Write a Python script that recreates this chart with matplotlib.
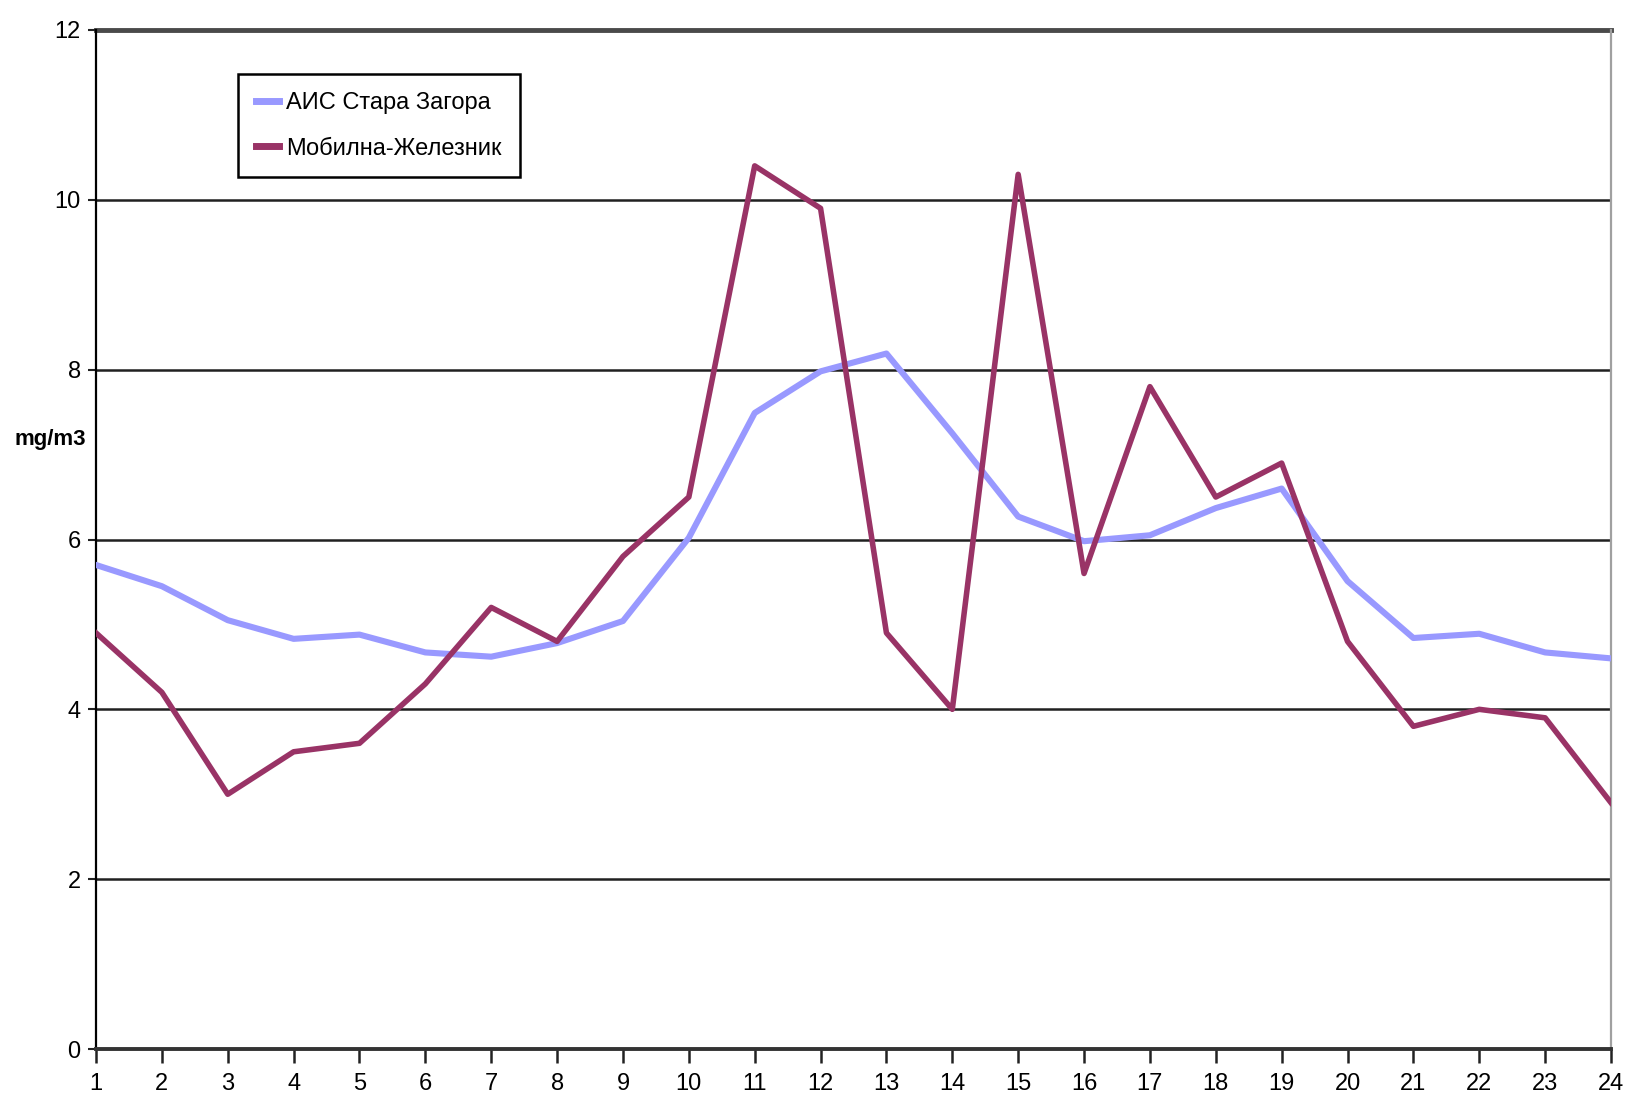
import matplotlib
matplotlib.use('Agg')
import matplotlib.pyplot as plt

plt.rcParams['font.family'] = ['Liberation Sans', 'DejaVu Sans']

hours = list(range(1, 25))
ais_stara_zagora = [5.7, 5.45, 5.05, 4.83, 4.88, 4.67, 4.62, 4.78, 5.04, 6.02,
                    7.49, 7.98, 8.19, 7.25, 6.27, 5.98, 6.05, 6.37, 6.6, 5.51,
                    4.84, 4.89, 4.67, 4.6]
mobile_zheleznik = [4.9, 4.2, 3.0, 3.5, 3.6, 4.3, 5.2, 4.8, 5.8, 6.5,
                    10.4, 9.9, 4.9, 4.0, 10.3, 5.6, 7.8, 6.5, 6.9, 4.8,
                    3.8, 4.0, 3.9, 2.9]
y_ticks = [0, 2, 4, 6, 8, 10, 12]

fig = plt.figure(figsize=(16.32, 11.03), dpi=100)
ax = fig.add_axes([96 / 1632, 1 - 1049 / 1103, 1515 / 1632, 1019 / 1103])

# horizontal grid lines
for v in y_ticks[1:-1]:
    ax.axhline(v, color='#202020', lw=1.8, zorder=1)
ax.axhline(12, color='#4a4a4a', lw=3.5, zorder=1, clip_on=False)

ax.plot(hours, ais_stara_zagora, color='#9999FF', lw=4.4, label='АИС Стара Загора',
        zorder=3)
ax.plot(hours, mobile_zheleznik, color='#993366', lw=4.0, label='Мобилна-Железник',
        zorder=4)

ax.set_xlim(1, 24)
ax.set_ylim(0, 12)
ax.set_xticks(hours)
ax.set_yticks(y_ticks)
ax.tick_params(axis='x', direction='out', length=10, width=1.8, color='#222222',
               labelsize=17, pad=7)
ax.tick_params(axis='y', direction='out', length=6, width=1.5, color='#222222',
               labelsize=17, pad=5)

ax.spines['left'].set_color('black')
ax.spines['left'].set_linewidth(1.6)
ax.spines['bottom'].set_color('#333333')
ax.spines['bottom'].set_linewidth(2.8)
ax.spines['right'].set_color('#a0a0a0')
ax.spines['right'].set_linewidth(1.6)
ax.spines['top'].set_visible(False)

fig.text(15 / 1632, 1 - 440 / 1103, 'mg/m3', fontsize=16, fontweight='bold',
         ha='left', va='center')

leg = ax.legend(loc='upper left', bbox_to_anchor=(0.086, 0.968), fontsize=17,
                handlelength=1.0, handletextpad=0.3, borderpad=0.75,
                labelspacing=1.0, fancybox=False, framealpha=1)
leg.get_frame().set_edgecolor('black')
leg.get_frame().set_linewidth(1.8)
for line in leg.get_lines():
    line.set_linewidth(5)

fig.savefig('out.png', dpi=100)
